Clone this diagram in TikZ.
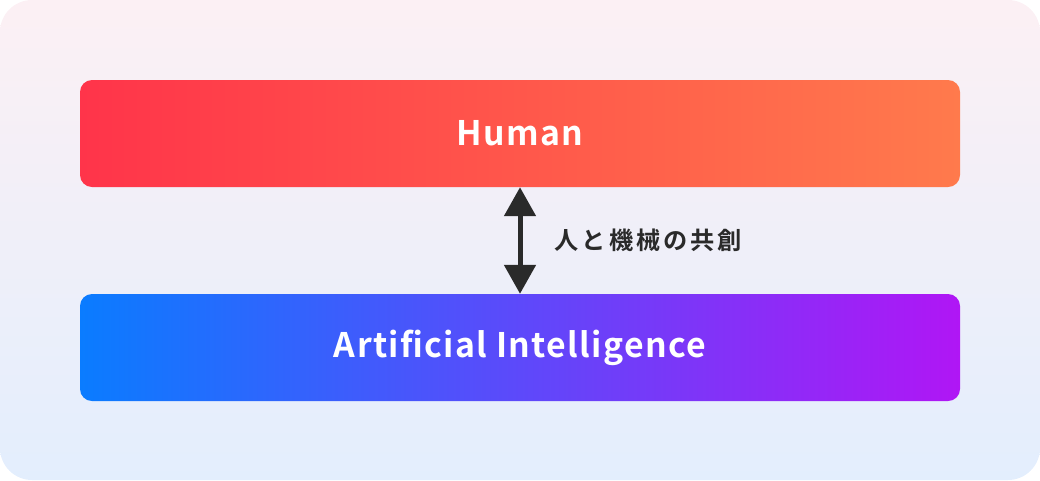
\documentclass[tikz,border=0pt]{standalone}
\usepackage{fontspec}
\usepackage{xcolor}
\usepackage{tikz}
\usetikzlibrary{arrows.meta,positioning,calc}
\newfontfamily\jpfont{Noto Sans CJK JP}[BoldFont={Noto Sans CJK JP Bold}]

\definecolor{bgtop}{RGB}{252,240,244}
\definecolor{bgbottom}{RGB}{227,238,253}
\definecolor{humanleft}{RGB}{255,52,74}
\definecolor{humanright}{RGB}{255,122,76}
\definecolor{aileft}{RGB}{10,124,255}
\definecolor{airight}{RGB}{176,22,245}
\definecolor{arrowgray}{RGB}{42,42,42}

\tikzset{
  layerbox/.style={rounded corners=12pt, minimum width=880pt, minimum height=107pt,
    inner sep=0pt, text=white, font=\jpfont\bfseries\fontsize{33.8}{36}\selectfont\addfontfeature{LetterSpace=4}},
  linkarrow/.style={{Triangle[width=31pt,length=29pt]}-{Triangle[width=31pt,length=29pt]},
    line width=5pt, draw=arrowgray}
}

\begin{document}
\begin{tikzpicture}[x=1pt,y=-1pt]
        \useasboundingbox (0,0) rectangle (1040,480);
        % Background
        \shade[rounded corners=32pt, top color=bgtop, bottom color=bgbottom] (0,0) rectangle (1040,480);

        % Layers
        \node[layerbox, left color=humanleft, right color=humanright] (human) at (520,133.5) {Human};
        \node[layerbox, left color=aileft, right color=airight] (ai) at (520,347.5) {Artificial Intelligence};

        % Link between layers
        \draw[linkarrow] (human.south) -- (ai.north)
          node[midway, right=29pt, text=arrowgray, font=\jpfont\bfseries\fontsize{24.2}{26}\selectfont\addfontfeature{LetterSpace=12}] (cocreate) {人と機械の共創};
    \end{tikzpicture}
\end{document}
